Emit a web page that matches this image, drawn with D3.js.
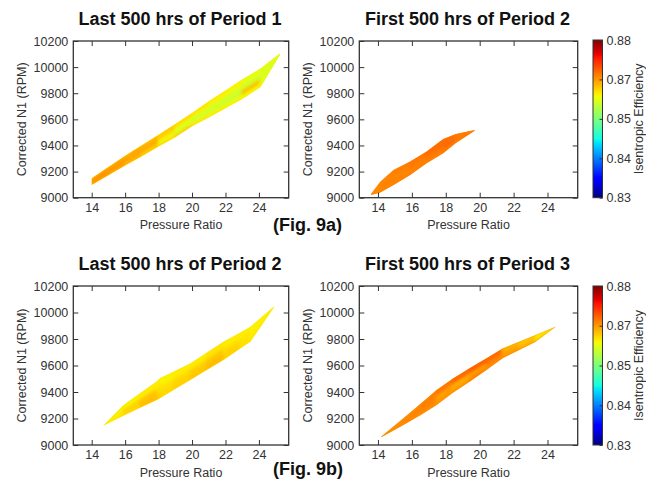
<!DOCTYPE html>
<html>
<head>
<meta charset="utf-8">
<script src="https://cdn.jsdelivr.net/npm/d3@7"></script>
<style>
  html, body { margin: 0; padding: 0; background: #fff; }
  svg { display: block; }
  text { font-family: "Liberation Sans", Arial, Helvetica, sans-serif; }
</style>
</head>
<body>
<svg id="chart" width="646" height="485"></svg>
<script>
// ---------------- DATA ----------------
const xTicks = [14, 16, 18, 20, 22, 24];
const yTicks = [9000, 9200, 9400, 9600, 9800, 10000, 10200];
const xDomain = [12.9, 25.78];
const yDomain = [9000, 10200];
const effDomain = [0.83, 0.88];
const cbarTickValues = [0.83, 0.8425, 0.855, 0.8675, 0.88];
const cbarTickLabels = ["0.83", "0.84", "0.85", "0.87", "0.88"];
const titles = ["Last 500 hrs of Period 1", "First 500 hrs of Period 2",
                "Last 500 hrs of Period 2", "First 500 hrs of Period 3"];
const figLabels = ["(Fig. 9a)", "(Fig. 9b)"];
const xLabel = "Pressure Ratio";
const yLabel = "Corrected N1 (RPM)";
const cbarLabel = "Isentropic Efficiency";

// Last 500 hrs of Period 1: stations along pressure ratio, lower/upper N1 edge, efficiency per band (low -> high)
const p1LastX  = [14.0, 15.0, 16.0, 17.0, 18.0, 19.0, 20.0, 21.0, 22.0, 23.0, 24.1, 25.25];
const p1LastHi = [9148, 9235, 9322, 9402, 9482, 9565, 9648, 9738, 9820, 9905, 9990, 10105];
const p1LastLo = [9098, 9172, 9246, 9318, 9392, 9462, 9548, 9615, 9685, 9755, 9848, 10092];
const p1LastEff = [
  [0.8672, 0.8678, 0.8680, 0.8672],
  [0.8668, 0.8672, 0.8676, 0.8668],
  [0.8660, 0.8664, 0.8670, 0.8664],
  [0.8645, 0.8655, 0.8668, 0.8658],
  [0.8640, 0.8618, 0.8638, 0.8648],
  [0.8650, 0.8605, 0.8612, 0.8638],
  [0.8632, 0.8602, 0.8608, 0.8632],
  [0.8628, 0.8600, 0.8606, 0.8628],
  [0.8625, 0.8598, 0.8604, 0.8625],
  [0.8622, 0.8655, 0.8600, 0.8615],
  [0.8615, 0.8608, 0.8606, 0.8610]
];

// First 500 hrs of Period 2
const p2FirstX  = [13.6, 14.14, 14.92, 15.9, 16.87, 17.85, 18.6, 19.7];
const p2FirstHi = [9030, 9123, 9212, 9278, 9353, 9450, 9488, 9518];
const p2FirstLo = [9020, 9040, 9097, 9174, 9264, 9340, 9418, 9512];
const p2FirstEff = [
  [0.8682, 0.8684, 0.8680],
  [0.8684, 0.8688, 0.8684],
  [0.8686, 0.8684, 0.8688],
  [0.8686, 0.8688, 0.8692],
  [0.8686, 0.8692, 0.8698],
  [0.8686, 0.8700, 0.8696],
  [0.8686, 0.8692, 0.8690]
];

// Last 500 hrs of Period 2
const p2LastX  = [14.75, 15.89, 16.89, 17.89, 18.1, 18.89, 19.89, 20.9, 21.88, 22.9, 23.5, 24.9];
const p2LastHi = [9152, 9300, 9390, 9480, 9505, 9553, 9616, 9699, 9780, 9850, 9892, 10045];
const p2LastLo = [9150, 9221, 9282, 9340, 9355, 9415, 9490, 9567, 9642, 9730, 9782, 10040];
const p2LastEff = [
  [0.8634, 0.8630, 0.8626],
  [0.8640, 0.8645, 0.8626],
  [0.8655, 0.8650, 0.8630],
  [0.8650, 0.8640, 0.8630],
  [0.8640, 0.8636, 0.8626],
  [0.8645, 0.8640, 0.8630],
  [0.8650, 0.8646, 0.8630],
  [0.8656, 0.8650, 0.8634],
  [0.8645, 0.8640, 0.8630],
  [0.8636, 0.8634, 0.8630],
  [0.8630, 0.8630, 0.8626]
];

// First 500 hrs of Period 3
const p3FirstX  = [14.2, 15.5, 16.5, 17.46, 18.4, 19.4, 20.4, 21.35, 22.33, 23.3, 24.47];
const p3FirstHi = [9065, 9201, 9310, 9415, 9500, 9579, 9655, 9728, 9780, 9830, 9893];
const p3FirstLo = [9058, 9151, 9225, 9302, 9392, 9478, 9566, 9654, 9717, 9780, 9890];
const p3FirstEff = [
  [0.8680, 0.8682, 0.8680],
  [0.8680, 0.8686, 0.8682],
  [0.8680, 0.8686, 0.8688],
  [0.8676, 0.8670, 0.8692],
  [0.8676, 0.8662, 0.8700],
  [0.8686, 0.8670, 0.8705],
  [0.8680, 0.8686, 0.8700],
  [0.8676, 0.8670, 0.8660],
  [0.8670, 0.8655, 0.8650],
  [0.8655, 0.8625, 0.8635]
];

// ---------------- RENDER ----------------
const layout = [
  {x0: 73.3,  x1: 288.7, y0: 41,  y1: 197.7},
  {x0: 359.3, x1: 577.7, y0: 41,  y1: 197.7},
  {x0: 73.3,  x1: 288.7, y0: 286, y1: 445},
  {x0: 359.3, x1: 577.7, y0: 286, y1: 445}
];
const panelData = [
  {x: p1LastX, hi: p1LastHi, lo: p1LastLo, eff: p1LastEff},
  {x: p2FirstX, hi: p2FirstHi, lo: p2FirstLo, eff: p2FirstEff},
  {x: p2LastX, hi: p2LastHi, lo: p2LastLo, eff: p2LastEff},
  {x: p3FirstX, hi: p3FirstHi, lo: p3FirstLo, eff: p3FirstEff}
];

// jet colormap
const jr = d3.scaleLinear().domain([0, 0.35, 0.66, 0.89, 1]).range([0, 0, 1, 1, 0.5]).clamp(true);
const jg = d3.scaleLinear().domain([0, 0.125, 0.375, 0.64, 0.91, 1]).range([0, 0, 1, 1, 0, 0]).clamp(true);
const jb = d3.scaleLinear().domain([0, 0.11, 0.34, 0.65, 1]).range([0.5, 1, 1, 0, 0]).clamp(true);
const tScale = d3.scaleLinear().domain(effDomain).range([0, 1]).clamp(true);
function jet(t) {
  return d3.rgb(Math.round(jr(t) * 255), Math.round(jg(t) * 255), Math.round(jb(t) * 255)).formatHex();
}
const color = v => jet(tScale(v));

const svg = d3.select("#chart");
const defs = svg.append("defs");
defs.append("filter").attr("id", "soft")
  .attr("x", "-10%").attr("y", "-10%").attr("width", "120%").attr("height", "120%")
  .append("feGaussianBlur").attr("stdDeviation", 1.4);

const axisColor = "#333";
const textColor = "#333";

layout.forEach((L, k) => {
  const D = panelData[k];
  const x = d3.scaleLinear().domain(xDomain).range([L.x0, L.x1]);
  const y = d3.scaleLinear().domain(yDomain).range([L.y1, L.y0]);
  const g = svg.append("g");

  // outline polygon
  const outline = D.x.map((v, i) => [x(v), y(D.hi[i])])
    .concat(D.x.map((v, i) => [x(v), y(D.lo[i])]).reverse());
  const line = d3.line();
  const clipId = "clip" + k;
  defs.append("clipPath").attr("id", clipId).append("path").attr("d", line(outline) + "Z");

  const allEff = D.eff.flat();
  g.append("path").attr("d", line(outline) + "Z")
    .attr("fill", color(d3.median(allEff))).attr("stroke", "none");

  const field = g.append("g").attr("clip-path", `url(#${clipId})`)
    .append("g").attr("filter", "url(#soft)");
  const nb = D.eff[0].length;
  const bandY = (i, j) => D.lo[i] + (D.hi[i] - D.lo[i]) * j / nb;
  const cells = [];
  for (let i = 0; i < D.x.length - 1; i++) {
    for (let j = 0; j < nb; j++) {
      cells.push({
        pts: [[x(D.x[i]), y(bandY(i, j))], [x(D.x[i + 1]), y(bandY(i + 1, j))],
              [x(D.x[i + 1]), y(bandY(i + 1, j + 1))], [x(D.x[i]), y(bandY(i, j + 1))]],
        v: D.eff[i][j]
      });
    }
  }
  field.selectAll("path").data(cells).join("path")
    .attr("d", c => line(c.pts) + "Z")
    .attr("fill", c => color(c.v))
    .attr("stroke", c => color(c.v))
    .attr("stroke-width", 1.5);

  // axes (inward ticks on all sides)
  const styleAxis = sel => {
    sel.select(".domain").remove();
    sel.selectAll("line").attr("stroke", axisColor);
    sel.selectAll("text").attr("fill", textColor).style("font-size", "12.5px")
      .style("font-family", '"Liberation Sans", Arial, sans-serif');
  };
  g.append("g").attr("transform", `translate(0,${L.y1})`)
    .call(d3.axisBottom(x).tickValues(xTicks).tickSize(-5).tickPadding(5).tickFormat(d3.format("d")))
    .call(styleAxis);
  g.append("g").attr("transform", `translate(0,${L.y0})`)
    .call(d3.axisTop(x).tickValues(xTicks).tickSize(-5).tickFormat(""))
    .call(styleAxis);
  g.append("g").attr("transform", `translate(${L.x0},0)`)
    .call(d3.axisLeft(y).tickValues(yTicks).tickSize(-5).tickPadding(5).tickFormat(d3.format("d")))
    .call(styleAxis);
  g.append("g").attr("transform", `translate(${L.x1},0)`)
    .call(d3.axisRight(y).tickValues(yTicks).tickSize(-5).tickFormat(""))
    .call(styleAxis);

  g.append("rect").attr("x", L.x0).attr("y", L.y0)
    .attr("width", L.x1 - L.x0).attr("height", L.y1 - L.y0)
    .attr("fill", "none").attr("stroke", axisColor).attr("stroke-width", 1.3);

  // labels
  g.append("text").attr("x", (L.x0 + L.x1) / 2).attr("y", L.y1 + 31.5)
    .attr("text-anchor", "middle").attr("fill", textColor).style("font-size", "12.5px").text(xLabel);
  g.append("text").attr("transform", `translate(${L.x0 - 47},${(L.y0 + L.y1) / 2}) rotate(-90)`)
    .attr("text-anchor", "middle").attr("fill", textColor).style("font-size", "12.5px").text(yLabel);
  g.append("text").attr("x", (L.x0 + L.x1) / 2 - 1).attr("y", L.y0 - 16)
    .attr("text-anchor", "middle").attr("fill", "#111").style("font-size", "18px")
    .style("font-weight", "bold").text(titles[k]);
});

// figure labels
svg.append("text").attr("x", 273).attr("y", 230.5).attr("fill", "#111")
  .style("font-size", "18px").style("font-weight", "bold").text(figLabels[0]);
svg.append("text").attr("x", 273).attr("y", 475).attr("fill", "#111")
  .style("font-size", "18px").style("font-weight", "bold").text(figLabels[1]);

// colour bars
const grad = defs.append("linearGradient").attr("id", "jetgrad")
  .attr("x1", 0).attr("y1", 1).attr("x2", 0).attr("y2", 0);
d3.range(0, 1.0001, 1 / 64).forEach(t => {
  grad.append("stop").attr("offset", t).attr("stop-color", jet(t));
});
const cbars = [{x0: 593, x1: 602.5, y0: 40, y1: 197.7}, {x0: 593, x1: 602.5, y0: 286, y1: 445}];
cbars.forEach(C => {
  const g = svg.append("g");
  const cy = d3.scaleLinear().domain(effDomain).range([C.y1, C.y0]);
  g.append("rect").attr("x", C.x0).attr("y", C.y0).attr("width", C.x1 - C.x0)
    .attr("height", C.y1 - C.y0).attr("fill", "url(#jetgrad)")
    .attr("stroke", axisColor).attr("stroke-width", 1);
  const ax = g.append("g").attr("transform", `translate(${C.x1},0)`)
    .call(d3.axisRight(cy).tickValues(cbarTickValues).tickSize(-3).tickPadding(4)
      .tickFormat((d, i) => cbarTickLabels[i]));
  ax.select(".domain").remove();
  ax.selectAll("line").attr("stroke", axisColor);
  ax.selectAll("text").attr("fill", textColor).style("font-size", "12.5px")
    .style("font-family", '"Liberation Sans", Arial, sans-serif');
  g.append("text").attr("transform", `translate(642.5,${(C.y0 + C.y1) / 2}) rotate(-90)`)
    .attr("text-anchor", "middle").attr("fill", textColor).style("font-size", "12.5px").text(cbarLabel);
});
</script>
</body>
</html>
